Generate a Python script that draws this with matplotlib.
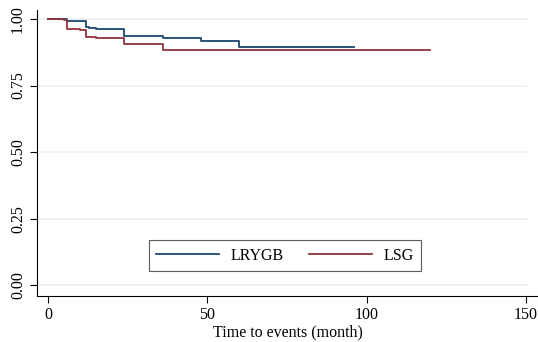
import matplotlib
matplotlib.use("Agg")
from matplotlib import pyplot as plt

# Kaplan-Meier estimates
t_lrygb = [0, 6, 12, 13, 15, 24, 36, 48, 60, 96]
s_lrygb = [1.0, 0.994, 0.971, 0.965, 0.962, 0.935, 0.929, 0.917, 0.894, 0.894]
t_lsg = [0, 5, 6, 10, 12, 15, 18, 24, 36, 120]
s_lsg = [1.0, 0.998, 0.961, 0.957, 0.934, 0.930, 0.927, 0.908, 0.883, 0.883]

xticks = [0, 50, 100, 150]
yticks = [0.0, 0.25, 0.5, 0.75, 1.0]
ytick_labels = ["0.00", "0.25", "0.50", "0.75", "1.00"]

plt.rcParams['font.family'] = ['Liberation Serif', 'DejaVu Serif']
plt.rcParams['font.size'] = 11.5

fig = plt.figure(figsize=(5.38, 3.42), dpi=100)
ax = fig.add_axes([37/538, 46/342, 501/538, 286/342])

xmin, xmax = -3.45, 153.8
# light grid lines stop just short of the axis end, like Stata
ax.hlines(yticks, xmin, 150.5, color="#eaf0f3", linewidth=1.2, zorder=0)

ax.step(t_lrygb, s_lrygb, where="post", color="#1a476f", linewidth=1.3, label="LRYGB")
ax.step(t_lsg, s_lsg, where="post", color="#90353b", linewidth=1.3, label="LSG")

ax.set_xlim(xmin, xmax)
ax.set_ylim(-0.041, 1.034)
ax.set_xticks(xticks)
ax.set_yticks(yticks)
ax.set_yticklabels(ytick_labels, rotation=90, va="center")
ax.tick_params(direction="out", length=5, width=0.8, color="black", labelsize=11.5, pad=3)
ax.spines["top"].set_visible(False)
ax.spines["right"].set_visible(False)
ax.set_xlabel("Time to events (month)", labelpad=1)

leg = ax.legend(loc="center", bbox_to_anchor=(285/538, 1 - 255.5/342), bbox_transform=fig.transFigure,
                ncol=2, frameon=True, fancybox=False, edgecolor="#333333", handlelength=3.9,
                columnspacing=1.6, handletextpad=0.75, borderpad=0.45, borderaxespad=0)
leg.get_frame().set_linewidth(0.8)

fig.savefig("out.png", dpi=100)
